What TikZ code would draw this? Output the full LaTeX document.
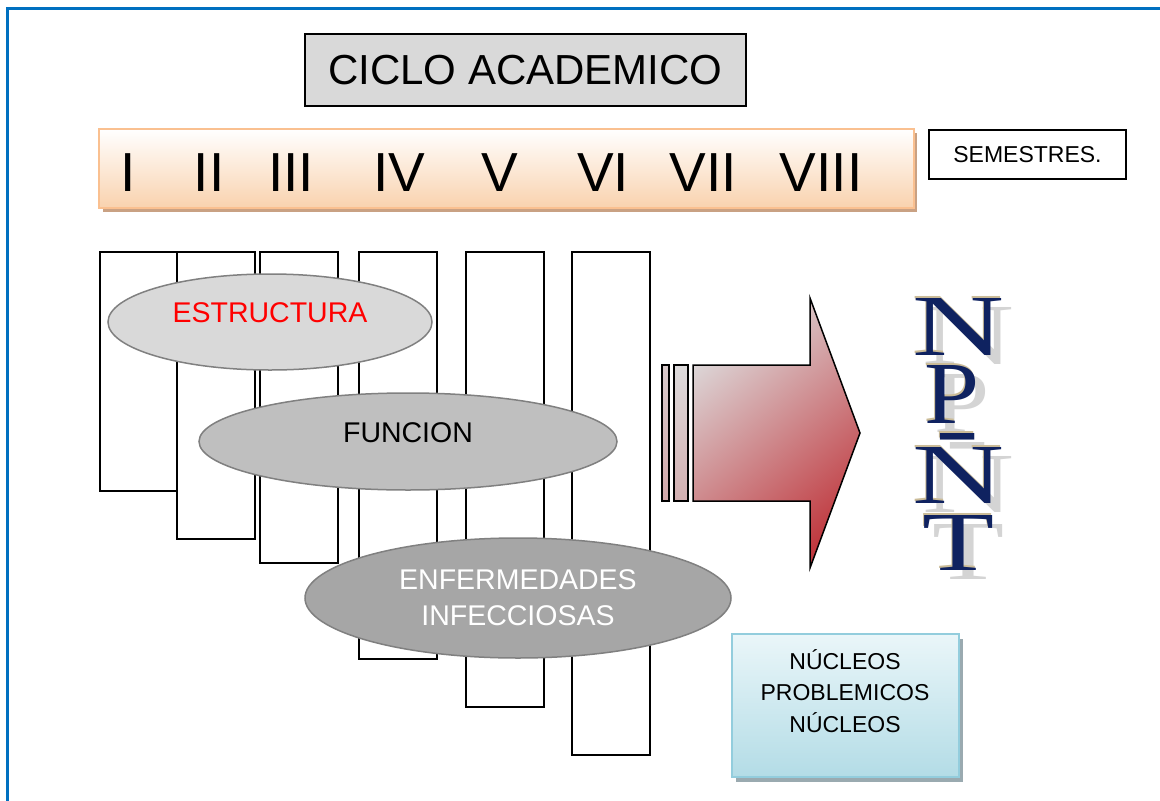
\documentclass[tikz,border=0pt]{standalone}
\usepackage{fontspec}
\setmainfont{Liberation Sans}
\newfontfamily\npntfont{Liberation Serif}
\usepackage{graphicx}
\usetikzlibrary{shapes.geometric,shadings}
\definecolor{frameblue}{HTML}{0070C0}
\definecolor{boxgray}{HTML}{D9D9D9}
\definecolor{ellgrayA}{HTML}{D9D9D9}
\definecolor{ellgrayB}{HTML}{BFBFBF}
\definecolor{ellgrayC}{HTML}{A6A6A6}
\definecolor{ellborder}{HTML}{808080}
\definecolor{peach}{HTML}{F9D2AE}
\definecolor{peachborder}{HTML}{FAC090}
\definecolor{peachshadow}{HTML}{C9A183}
\definecolor{arrowlight}{HTML}{DDDBDC}
\definecolor{arrowred}{HTML}{C0393F}
\definecolor{barfill}{HTML}{D6C3C4}
\definecolor{cyanlight}{HTML}{EAF6F9}
\definecolor{cyandark}{HTML}{B3DCE6}
\definecolor{cyanborder}{HTML}{93CDDD}
\definecolor{cyanshadow}{HTML}{9AAAB0}
\definecolor{navyletter}{HTML}{0F2260}
\definecolor{tanletter}{HTML}{CBBC98}
\definecolor{shadowletter}{HTML}{D4D4D4}
\tikzset{
  titlebox/.style={draw=black, line width=1.5pt, fill=boxgray, minimum width=441pt, minimum height=72pt, inner sep=0pt, font=\fontsize{42}{50}\selectfont},
  semband/.style={draw=peachborder, line width=2pt, top color=white, bottom color=peach, inner sep=0pt, minimum width=815pt, minimum height=79pt},
  numeral/.style={font=\fontsize{55}{60}\selectfont, anchor=base, inner sep=0pt},
  sembox/.style={draw=black, line width=1.5pt, fill=white, minimum width=197pt, minimum height=49pt, inner sep=0pt, font=\fontsize{23}{28}\selectfont},
  column/.style={draw=black, line width=1.5pt, fill=white, minimum width=78pt, anchor=north west, inner sep=0pt},
  ellbase/.style={ellipse, draw=ellborder, line width=1.5pt, inner sep=0pt},
  elltext/.style={font=\fontsize{28.5}{36}\selectfont, align=center, inner sep=0pt},
  arrowpart/.style={draw=black, line width=1.5pt, line join=miter},
  nucbox/.style={draw=cyanborder, line width=2pt, top color=cyanlight, bottom color=cyandark, minimum width=227pt, minimum height=143pt, inner sep=0pt},
  nuctext/.style={font=\fontsize{23}{31.5}\selectfont, align=center, inner sep=0pt},
  letterbase/.style={inner sep=0pt},
}
\newcommand{\fancyletter}[6]{%
  \node[letterbase, text=shadowletter] at (#2+10,#3+9) {\resizebox{#4pt}{#5pt}{\npntfont #6}};
  \node[letterbase, text=tanletter] at (#2-1.5,#3-1.5) {\resizebox{#4pt}{#5pt}{\npntfont #6}};
  \node[letterbase, text=navyletter] (#1) at (#2,#3) {\resizebox{#4pt}{#5pt}{\npntfont #6}};
}
\begin{document}
\begin{tikzpicture}[x=1pt,y=-1pt]
\useasboundingbox (0,0) rectangle (1160,801);
\fill[white] (0,0) rectangle (1160,801);
\draw[frameblue, line width=3pt] (7.5,801) -- (7.5,8.5) -- (1160,8.5);

% title
\node[titlebox] (title) at (525.5,70) {CICLO ACADEMICO};

% semester band
\fill[peachshadow] (103,133) rectangle (917,212);
\node[semband] (band) at (506.5,168.5) {};
\node[numeral] (s1) at (128,191) {I};
\node[numeral] (s2) at (209,191) {II};
\node[numeral] (s3) at (291,191) {III};
\node[numeral] (s4) at (399,191) {IV};
\node[numeral] (s5) at (500,191) {V};
\node[numeral] (s6) at (603,191) {VI};
\node[numeral] (s7) at (703,191) {VII};
\node[numeral] (s8) at (821,191) {VIII};
\node[sembox] (sem) at (1027.5,154.5) {SEMESTRES.};

% columns
\node[column, minimum height=239pt] (c1) at (99,251) {};
\node[column, minimum height=287pt] (c2) at (176,251) {};
\node[column, minimum height=311pt] (c3) at (259,251) {};
\node[column, minimum height=407pt] (c4) at (358,251) {};
\node[column, minimum height=455pt] (c5) at (465,251) {};
\node[column, minimum height=503pt] (c6) at (571,251) {};

% ellipses
\node[ellbase, fill=ellgrayA, minimum width=324pt, minimum height=96pt] (estr) at (270,322) {};
\node[elltext, text=red] (estrtxt) at ([yshift=9pt]estr.center) {ESTRUCTURA};
\node[ellbase, fill=ellgrayB, minimum width=418pt, minimum height=97pt] (func) at (408,441.5) {};
\node[elltext, text=black] (functxt) at ([yshift=9pt]func.center) {FUNCION};
\node[ellbase, fill=ellgrayC, minimum width=426pt, minimum height=120pt] (enf) at (518,598) {};
\node[elltext, text=white] (enftxt) at (enf.center) {ENFERMEDADES\\INFECCIOSAS};

% big striped arrow
\path[arrowpart, top color=barfill!70!arrowlight, bottom color=barfill!80!arrowred] (662,365) rectangle (669,501);
\path[arrowpart, top color=arrowlight, bottom color=barfill!85!arrowred] (674,365) rectangle (688,501);
\path[arrowpart, top color=arrowlight, bottom color=arrowred, shading angle=40]
  (693,365) -- (810,365) -- (810,298) -- (860,433) -- (810,568) -- (810,501) -- (693,501) -- cycle;

% NP-NT letters
\fancyletter{lN}{959}{326.5}{92}{57}{N}
\fancyletter{lP}{952.5}{394}{55}{58}{P}
\node[letterbase, text=shadowletter, anchor=north] at (968,442) {\resizebox{44pt}{24pt}{\npntfont -}};
\node[letterbase, text=tanletter, anchor=north] at (956.5,431.5) {\resizebox{44pt}{24pt}{\npntfont -}};
\node[letterbase, text=navyletter, anchor=north] (lH) at (958,433) {\resizebox{44pt}{24pt}{\npntfont -}};
\fancyletter{lN2}{959}{475}{92}{56}{N}
\fancyletter{lT}{959}{542.5}{72}{55}{T}

% nucleos box
\fill[cyanshadow] (736,639) rectangle (963,782);
\node[nucbox] (nuc) at (845,705.5) {};
\node[nuctext] (nuctxt) at (845,691) {NÚCLEOS\\PROBLEMICOS\\NÚCLEOS};
\end{tikzpicture}
\end{document}
